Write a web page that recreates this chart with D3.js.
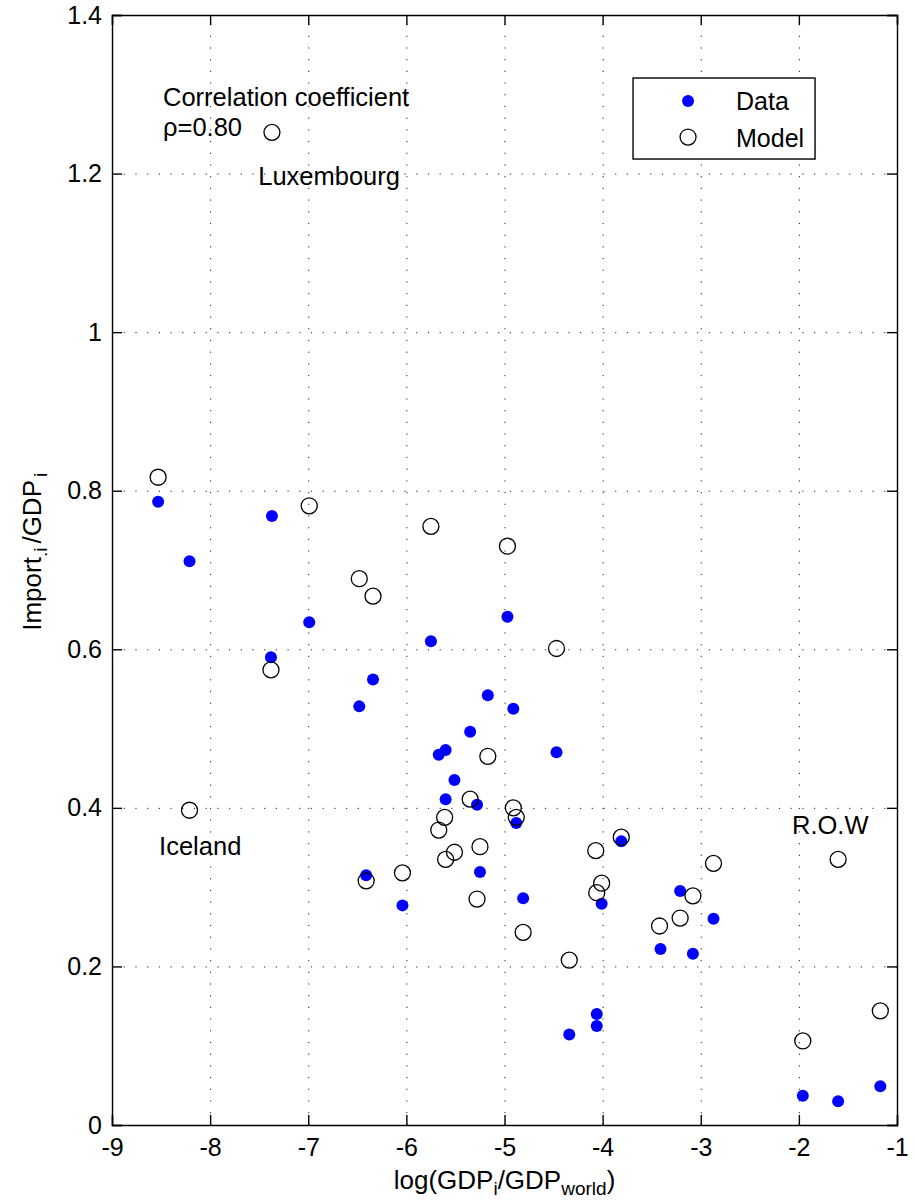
<!DOCTYPE html>
<html>
<head>
<meta charset="utf-8">
<script src="https://cdn.jsdelivr.net/npm/d3@7"></script>
<style>
  body { margin: 0; background: #fff; }
  svg text { font-family: "Liberation Sans", Arial, Helvetica, sans-serif; fill: #000; }
  .axis path, .axis line { stroke: #000; stroke-width: 1.4; }
  .grid line { stroke: #222; stroke-width: 1; stroke-dasharray: 1.2, 10.5; }
  .grid path { display: none; }
</style>
</head>
<body>
<script>
// data points (blue dots)
const dataX = [-8.53, -8.21, -7.37, -7.38, -6.99, -6.48, -6.34, -6.41, -6.04, -5.75,
  -5.67, -5.60, -5.60, -5.51, -5.35, -5.28, -5.25, -5.17, -4.97, -4.91,
  -4.88, -4.81, -4.47, -4.34, -4.06, -4.06, -4.01, -3.81, -3.41, -3.21,
  -3.08, -2.87, -1.96, -1.60, -1.17]
const dataY = [0.786, 0.711, 0.768, 0.590, 0.634, 0.528, 0.562, 0.315, 0.277, 0.610,
  0.467, 0.473, 0.411, 0.435, 0.496, 0.404, 0.319, 0.542, 0.641, 0.525,
  0.381, 0.286, 0.470, 0.114, 0.140, 0.125, 0.279, 0.358, 0.222, 0.295,
  0.216, 0.260, 0.037, 0.030, 0.049]

// model points (open circles)
const modelX = [-8.53, -8.21, -7.37, -7.38, -6.99, -6.48, -6.34, -6.41, -6.04, -5.75,
  -5.67, -5.61, -5.60, -5.51, -5.35, -5.28, -5.25, -5.17, -4.97, -4.91,
  -4.88, -4.81, -4.47, -4.34, -4.07, -4.06, -4.01, -3.81, -3.42, -3.21,
  -3.08, -2.87, -1.96, -1.60, -1.17]
const modelY = [0.817, 0.397, 1.252, 0.574, 0.781, 0.689, 0.667, 0.308, 0.318, 0.755,
  0.372, 0.388, 0.335, 0.344, 0.411, 0.285, 0.351, 0.465, 0.730, 0.400,
  0.388, 0.243, 0.601, 0.208, 0.346, 0.293, 0.305, 0.363, 0.251, 0.261,
  0.289, 0.330, 0.106, 0.335, 0.144]

const xTicks = [-9, -8, -7, -6, -5, -4, -3, -2, -1]
const yTicks = [0, 0.2, 0.4, 0.6, 0.8, 1, 1.2, 1.4]

// text labels: [text, x, y] in data units
const notes = [
  ['Luxembourg', -7.51, 1.185],
  ['Iceland', -8.52, 0.341],
  ['R.O.W', -2.07, 0.367],
  ['Correlation coefficient', -8.48, 1.285],
  ['ρ=0.80', -8.48, 1.247]
]

const W = 914, H = 1202
const m = {left: 112, right: 17, top: 15, bottom: 77}
const iw = W - m.left - m.right, ih = H - m.top - m.bottom

const x = d3.scaleLinear().domain([-9, -1]).range([0, iw])
const y = d3.scaleLinear().domain([0, 1.4]).range([ih, 0])

const svg = d3.select('body').append('svg')
  .attr('width', W).attr('height', H)
const g = svg.append('g').attr('transform', `translate(${m.left},${m.top})`)

// dotted grid
g.append('g').attr('class', 'grid')
  .attr('transform', `translate(0,${ih})`)
  .call(d3.axisBottom(x).tickValues(xTicks.slice(1, -1)).tickSize(-ih).tickFormat(''))
g.append('g').attr('class', 'grid')
  .call(d3.axisLeft(y).tickValues(yTicks.slice(1, -1)).tickSize(-iw).tickFormat(''))

// box axes, ticks pointing in (matlab style), plain hyphen minus
const fmt = d => String(d)
const bx = g.append('g').attr('class', 'axis')
  .attr('transform', `translate(0,${ih})`)
  .call(d3.axisBottom(x).tickValues(xTicks).tickSize(-10).tickPadding(13).tickFormat(fmt))
bx.selectAll('text').style('font-size', '25px')
g.append('g').attr('class', 'axis')
  .call(d3.axisTop(x).tickValues(xTicks).tickSize(-10).tickFormat(''))
const by = g.append('g').attr('class', 'axis')
  .call(d3.axisLeft(y).tickValues(yTicks).tickSize(-10).tickPadding(10).tickFormat(fmt))
by.selectAll('text').style('font-size', '25px')
g.append('g').attr('class', 'axis')
  .attr('transform', `translate(${iw},0)`)
  .call(d3.axisRight(y).tickValues(yTicks).tickSize(-10).tickFormat(''))
g.selectAll('.axis .domain').attr('stroke-width', 1.6)

// points
g.append('g').selectAll('circle')
  .data(dataX.map((d, i) => [d, dataY[i]]))
  .join('circle')
  .attr('cx', d => x(d[0])).attr('cy', d => y(d[1]))
  .attr('r', 6).attr('fill', '#0000ff')
g.append('g').selectAll('circle')
  .data(modelX.map((d, i) => [d, modelY[i]]))
  .join('circle')
  .attr('cx', d => x(d[0])).attr('cy', d => y(d[1]))
  .attr('r', 8).attr('fill', 'none').attr('stroke', '#000').attr('stroke-width', 1.3)

// annotations
g.selectAll('.note').data(notes).join('text')
  .attr('class', 'note')
  .attr('x', d => x(d[1])).attr('y', d => y(d[2]))
  .style('font-size', '25.5px')
  .text(d => d[0])

// legend
const lg = g.append('g').attr('transform', `translate(${x(-3.69)},${y(1.3205)})`)
lg.append('rect').attr('width', 182).attr('height', 81)
  .attr('fill', '#fff').attr('stroke', '#000').attr('stroke-width', 1.4)
lg.append('circle').attr('cx', 55).attr('cy', 23).attr('r', 6).attr('fill', '#0000ff')
lg.append('circle').attr('cx', 55).attr('cy', 59).attr('r', 8)
  .attr('fill', 'none').attr('stroke', '#000').attr('stroke-width', 1.3)
lg.append('text').attr('x', 103).attr('y', 32).style('font-size', '25px').text('Data')
lg.append('text').attr('x', 103).attr('y', 69).style('font-size', '25px').text('Model')

// axis labels
const xl = svg.append('text')
  .attr('x', m.left + iw / 2).attr('y', 1189)
  .attr('text-anchor', 'middle').style('font-size', '26px')
xl.append('tspan').text('log(GDP')
xl.append('tspan').attr('baseline-shift', '-32%').style('font-size', '19px').text('i')
xl.append('tspan').text('/GDP')
xl.append('tspan').attr('baseline-shift', '-32%').style('font-size', '19px').text('world')
xl.append('tspan').text(')')

const yl = svg.append('text')
  .attr('transform', `translate(41,${m.top + y(0.723)}) rotate(-90)`)
  .attr('text-anchor', 'middle').style('font-size', '26px')
yl.append('tspan').text('Import')
yl.append('tspan').attr('baseline-shift', '-32%').style('font-size', '19px').text('.i')
yl.append('tspan').attr('dx', 4).text('/GDP')
yl.append('tspan').attr('dx', 3).attr('baseline-shift', '-32%').style('font-size', '19px').text('i')
</script>
</body>
</html>
